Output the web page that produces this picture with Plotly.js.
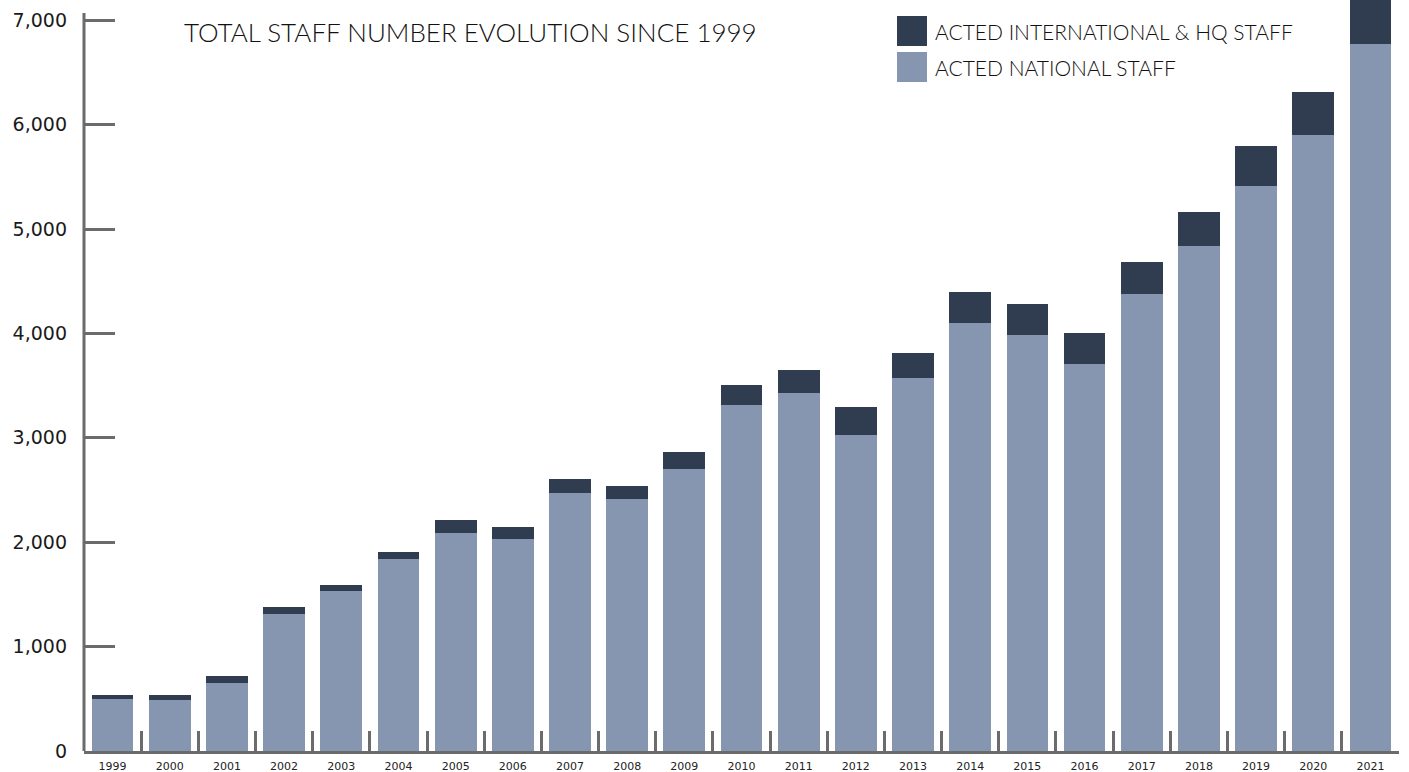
<!DOCTYPE html>
<html>
<head>
<meta charset="utf-8">
<script src="https://cdn.plot.ly/plotly-3.0.1.min.js"></script>
<style>html,body{margin:0;padding:0;background:#fff;}#chart{width:1409px;height:772px;}</style>
</head>
<body>
<div id="chart"></div>
<script>
const years = ["1999","2000","2001","2002","2003","2004","2005","2006","2007","2008","2009","2010","2011","2012","2013","2014","2015","2016","2017","2018","2019","2020","2021"];
const nationalStaff = [498,488,651,1312,1533,1839,2088,2031,2471,2414,2701,3314,3429,3027,3573,4100,3985,3707,4377,4837,5412,5900,6772];
const internationalStaff = [38,48,67,67,57,67,125,115,134,124,163,192,220,268,239,297,297,297,307,326,383,412,530];
const seriesNames = ["ACTED NATIONAL STAFF","ACTED INTERNATIONAL & HQ STAFF"];
const yTickVals = [0,1000,2000,3000,4000,5000,6000,7000];
const yTickText = ["0","1,000","2,000","3,000","4,000","5,000","6,000","7,000"];
const titleText = "TOTAL STAFF NUMBER EVOLUTION SINCE 1999";

const W = 1409, H = 772;
const L = 84, R = 10, T = 0, B = 21;
const pw = W - L - R, ph = H - T - B;
const px2x = p => (p - L) / pw;
const py2y = p => (H - B - p) / ph;

const lightColor = "#8696B0";
const darkColor = "#303C50";
const axisColor = "#6b6b6b";
const fontFam = "Lato, 'Open Sans', sans-serif";
const tickFam = "'DejaVu Sans', sans-serif";

const traces = [
  {type:"bar", x:years, y:nationalStaff, name:seriesNames[0], marker:{color:lightColor}, hoverinfo:"skip"},
  {type:"bar", x:years, y:internationalStaff, name:seriesNames[1], marker:{color:darkColor}, hoverinfo:"skip"}
];

const layout = {
  width: W, height: H,
  margin: {l:L, r:R, t:T, b:B, pad:0},
  paper_bgcolor:"#fff", plot_bgcolor:"#fff",
  barmode:"stack", bargap:0.27,
  showlegend:false,
  xaxis:{
    type:"category", range:[-0.5, 22.5],
    showline:true, linecolor:axisColor, linewidth:3,
    ticks:"inside", tickson:"boundaries", ticklen:20, tickwidth:3, tickcolor:axisColor,
    showgrid:false, zeroline:false,
    tickfont:{family:tickFam, size:11, color:"#222"},
    ticklabelstandoff:3,
    fixedrange:true
  },
  yaxis:{
    range:[0, ph/0.1044],
    showline:false,
    tickvals:yTickVals, ticktext:yTickText,
    ticks:"inside", ticklen:31, tickwidth:3, tickcolor:axisColor,
    showgrid:false, zeroline:false,
    tickfont:{family:tickFam, size:19, color:"#1a1a1a"},
    ticklabelstandoff:16,
    fixedrange:true
  },
  shapes:[
    {type:"line", xref:"paper", yref:"paper", x0:0, x1:0, y0:0, y1:py2y(13), line:{color:axisColor, width:3}},
    {type:"rect", xref:"paper", yref:"paper", x0:px2x(897), x1:px2x(927), y0:py2y(46), y1:py2y(16), fillcolor:darkColor, line:{width:0}},
    {type:"rect", xref:"paper", yref:"paper", x0:px2x(897), x1:px2x(927), y0:py2y(82), y1:py2y(52), fillcolor:lightColor, line:{width:0}}
  ],
  annotations:[
    {xref:"paper", yref:"paper", x:px2x(182), y:py2y(32), xanchor:"left", yanchor:"middle", showarrow:false,
     text:titleText, font:{family:fontFam, size:26, color:"#111", weight:300}},
    {xref:"paper", yref:"paper", x:px2x(933), y:py2y(32), xanchor:"left", yanchor:"middle", showarrow:false,
     text:seriesNames[1], font:{family:fontFam, size:21, color:"#111", weight:300}},
    {xref:"paper", yref:"paper", x:px2x(933), y:py2y(68), xanchor:"left", yanchor:"middle", showarrow:false,
     text:seriesNames[0], font:{family:fontFam, size:21, color:"#111", weight:300}}
  ]
};

Plotly.newPlot("chart", traces, layout, {displayModeBar:false, staticPlot:true});
</script>
</body>
</html>
